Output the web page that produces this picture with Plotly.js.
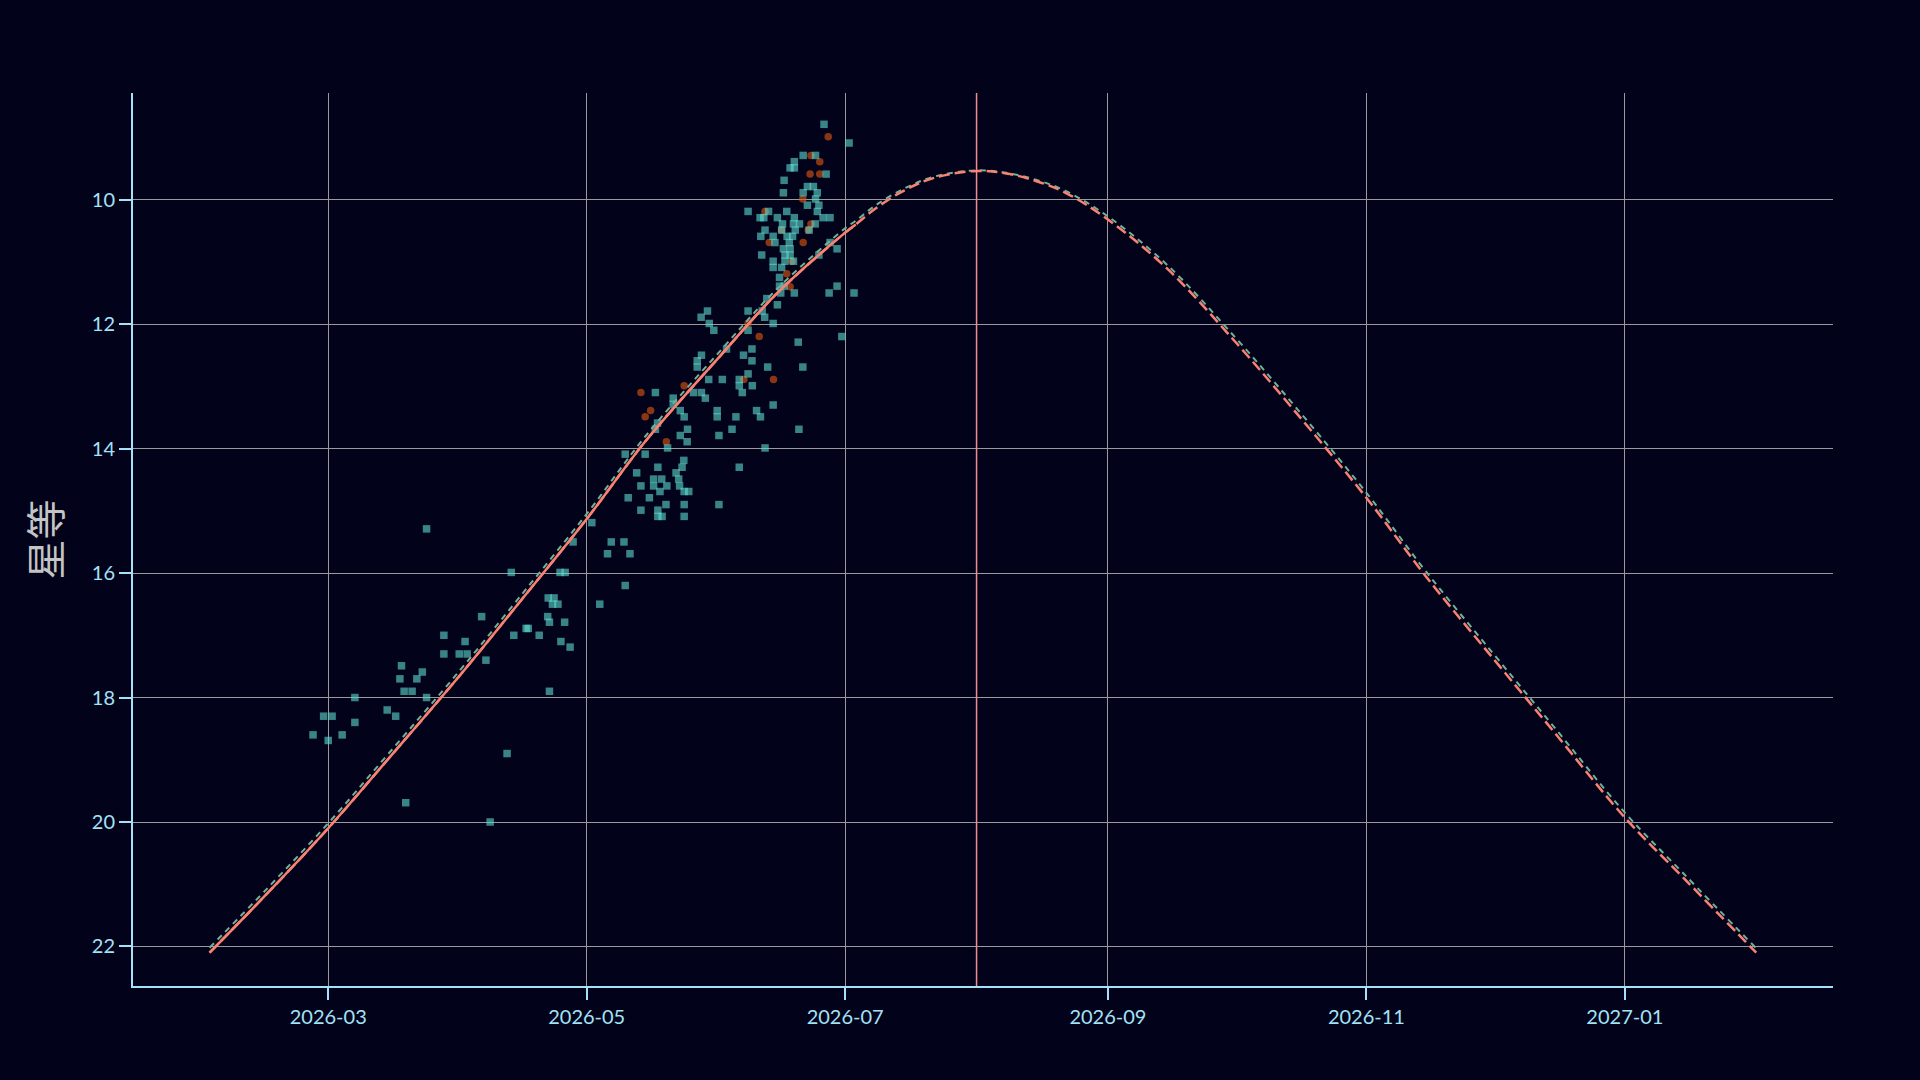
<!DOCTYPE html>
<html>
<head>
<meta charset="utf-8">
<script src="https://cdn.plot.ly/plotly-3.0.1.min.js"></script>
<style>
  html, body { margin: 0; padding: 0; background: #02021a; }
  #mag-graph { width: 1920px; height: 1080px; }
</style>
</head>
<body>
<div id="mag-graph"></div>
<script>
/* -------------------------------------------------------*/
/* Comet magnitude: observations + predicted light curves */
/* ------------------------------------------------------*/
const magGraph = document.getElementById('mag-graph');

// Observations (teal squares)
const obsDates = [
  // Feb - Apr
  '2026-03-24 05:00', '2026-05-02 05:00', '2026-04-27 19:00', '2026-04-13 05:00', '2026-04-24 17:00',
  '2026-04-25 22:00', '2026-04-21 22:00', '2026-04-23 07:00', '2026-04-22 22:00', '2026-04-24 05:00',
  '2026-04-06 05:00', '2026-04-21 19:00', '2026-04-22 05:00', '2026-04-25 19:00', '2026-04-16 17:00',
  '2026-04-17 05:00', '2026-04-13 19:00', '2026-04-19 19:00', '2026-03-28 07:00', '2026-04-02 07:00',
  '2026-04-24 22:00', '2026-04-27 02:00', '2026-03-28 07:00', '2026-03-31 22:00', '2026-04-02 19:00',
  '2026-04-07 05:00', '2026-03-18 07:00', '2026-03-23 05:00', '2026-03-17 22:00', '2026-03-21 22:00',
  '2026-03-18 22:00', '2026-03-20 19:00', '2026-04-22 05:00', '2026-03-07 07:00', '2026-03-24 05:00',
  '2026-03-14 22:00', '2026-02-27 22:00', '2026-03-01 22:00', '2026-03-16 22:00', '2026-03-07 07:00',
  '2026-02-25 10:00', '2026-03-04 07:00', '2026-03-01 00:00', '2026-04-12 05:00', '2026-03-19 07:00',
  '2026-04-08 05:00',
  // May
  '2026-05-17 05:00', '2026-05-21 10:00', '2026-05-21 10:00', '2026-05-23 02:00', '2026-05-24 00:00',
  '2026-05-17 17:00', '2026-05-17 05:00', '2026-05-24 19:00', '2026-05-23 02:00', '2026-05-24 17:00',
  '2026-05-20 02:00', '2026-05-10 02:00', '2026-05-14 19:00', '2026-05-23 22:00', '2026-05-17 19:00',
  '2026-05-23 12:00', '2026-05-12 19:00', '2026-05-22 02:00', '2026-05-16 19:00', '2026-05-18 17:00',
  '2026-05-22 17:00', '2026-05-13 19:00', '2026-05-16 19:00', '2026-05-19 22:00', '2026-05-22 22:00',
  '2026-05-18 07:00', '2026-05-24 00:00', '2026-05-25 02:00', '2026-05-10 19:00', '2026-05-15 19:00',
  '2026-05-19 17:00', '2026-05-24 00:00', '2026-06-01 05:00', '2026-05-13 19:00', '2026-05-17 19:00',
  '2026-05-17 19:00', '2026-05-18 19:00', '2026-05-24 00:00', '2026-05-06 19:00', '2026-05-09 19:00',
  '2026-05-05 22:00', '2026-05-11 05:00', '2026-05-10 02:00', '2026-05-04 02:00',
  // late May - June
  '2026-05-29 19:00', '2026-06-02 00:00', '2026-06-06 00:00', '2026-06-06 00:00', '2026-06-08 02:00',
  '2026-06-09 02:00', '2026-05-26 05:00', '2026-05-28 02:00', '2026-05-29 00:00', '2026-06-06 17:00',
  '2026-06-14 00:00', '2026-05-31 19:00', '2026-05-31 19:00', '2026-06-05 05:00', '2026-06-10 02:00',
  '2026-06-11 00:00', '2026-06-04 07:00', '2026-06-01 05:00', '2026-06-12 02:00', '2026-06-06 00:00',
  '2026-06-20 02:00',
  '2026-06-15 12:00', '2026-06-16 14:00', '2026-06-19 00:00', '2026-06-27 05:00', '2026-06-29 02:00',
  '2026-07-03 02:00', '2026-06-15 19:00', '2026-06-12 12:00', '2026-06-15 00:00', '2026-05-29 12:00',
  '2026-05-28 00:00', '2026-06-08 02:00', '2026-06-11 10:00', '2026-06-12 00:00', '2026-05-29 22:00',
  '2026-06-08 02:00', '2026-05-31 00:00', '2026-06-14 00:00', '2026-06-30 05:00', '2026-06-19 22:00',
  '2026-06-09 00:00', '2026-06-03 00:00', '2026-05-28 02:00', '2026-06-07 00:00', '2026-06-09 00:00',
  '2026-05-27 02:00', '2026-05-27 02:00', '2026-06-12 17:00', '2026-06-21 00:00',
  // bright end
  '2026-06-26 00:00', '2026-07-01 22:00', '2026-06-21 02:00', '2026-06-24 00:00', '2026-06-19 00:00',
  '2026-06-18 00:00', '2026-06-19 00:00', '2026-06-26 12:00', '2026-06-16 14:00', '2026-06-22 02:00',
  '2026-06-23 12:00', '2026-06-16 10:00', '2026-06-21 02:00', '2026-06-24 10:00', '2026-06-24 00:00',
  '2026-06-22 02:00', '2026-06-24 19:00',
  '2026-06-08 02:00', '2026-06-12 22:00', '2026-06-17 05:00', '2026-06-24 10:00', '2026-06-10 22:00',
  '2026-06-11 19:00', '2026-06-15 00:00', '2026-06-19 00:00', '2026-06-25 19:00', '2026-06-27 10:00',
  '2026-06-16 05:00', '2026-06-18 19:00', '2026-06-20 05:00', '2026-06-23 22:00', '2026-06-12 02:00',
  '2026-06-16 00:00', '2026-06-19 05:00', '2026-06-22 12:00', '2026-06-11 02:00', '2026-06-14 00:00',
  '2026-06-17 07:00', '2026-06-18 14:00', '2026-06-14 10:00', '2026-06-17 19:00', '2026-06-27 10:00',
  '2026-06-16 10:00', '2026-06-18 00:00', '2026-06-29 02:00', '2026-06-11 07:00', '2026-06-16 19:00',
  '2026-06-18 00:00', '2026-06-24 19:00', '2026-06-14 00:00', '2026-06-16 19:00', '2026-06-18 19:00',
  '2026-06-14 00:00', '2026-06-16 00:00', '2026-06-15 12:00',
];
const obsMags = [
  15.29, 15.19, 15.5, 15.99, 15.99,
  15.99, 16.4, 16.4, 16.5, 16.5,
  16.7, 16.7, 16.79, 16.79, 16.89,
  16.89, 17.0, 17.0, 17.0, 17.1,
  17.1, 17.19, 17.3, 17.3, 17.3,
  17.4, 17.49, 17.59, 17.7, 17.7,
  17.9, 17.9, 17.9, 18.0, 18.0,
  18.2, 18.3, 18.3, 18.3, 18.4,
  18.6, 18.6, 18.69, 18.9, 19.69,
  20.0,
  13.1, 13.19, 13.29, 13.39, 13.49,
  13.59, 13.69, 13.69, 13.79, 13.89,
  13.99, 14.09, 14.09, 14.19, 14.3,
  14.3, 14.39, 14.39, 14.49, 14.49,
  14.49, 14.6, 14.6, 14.6, 14.6,
  14.69, 14.69, 14.69, 14.79, 14.79,
  14.9, 14.9, 14.9, 14.99, 14.99,
  15.09, 15.09, 15.09, 15.5, 15.5,
  15.69, 15.69, 16.2, 16.5,
  12.89, 12.89, 12.89, 12.99, 12.8,
  12.99, 13.1, 13.1, 13.19, 13.1,
  13.3, 13.39, 13.49, 13.49, 13.39,
  13.49, 13.69, 13.79, 13.99, 14.3,
  13.69,
  11.39, 11.39, 11.5, 11.5, 11.39,
  11.5, 11.5, 11.59, 11.69, 11.79,
  11.89, 11.79, 11.79, 11.89, 11.99,
  12.1, 12.1, 11.99, 12.2, 12.29,
  12.4, 12.4, 12.5, 12.5, 12.59,
  12.59, 12.69, 12.69, 12.69,
  8.79, 9.09, 9.29, 9.29, 9.39,
  9.49, 9.49, 9.59, 9.69, 9.79,
  9.79, 9.89, 9.89, 9.89, 9.99,
  10.09, 10.09,
  10.19, 10.19, 10.19, 10.19, 10.29,
  10.29, 10.29, 10.29, 10.29, 10.29,
  10.39, 10.39, 10.39, 10.39, 10.49,
  10.49, 10.49, 10.49, 10.59, 10.59,
  10.59, 10.59, 10.69, 10.69, 10.69,
  10.79, 10.79, 10.79, 10.89, 10.89,
  10.89, 10.89, 10.99, 10.99, 10.99,
  11.09, 11.09, 11.25,
];

// Second observation set (orange dots)
const altObsDates = [
  '2026-05-13 19:00', '2026-05-16 02:00', '2026-05-14 19:00', '2026-05-24 00:00', '2026-05-19 19:00',
  '2026-06-07 02:00', '2026-06-14 02:00', '2026-06-18 00:00', '2026-06-08 02:00', '2026-06-10 17:00',
  '2026-06-27 00:00', '2026-06-22 22:00', '2026-06-25 00:00', '2026-06-22 17:00', '2026-06-25 00:00',
  '2026-06-21 00:00', '2026-06-12 02:00', '2026-06-22 22:00', '2026-06-22 07:00', '2026-06-16 00:00',
  '2026-06-13 02:00', '2026-06-21 02:00', '2026-06-18 10:00', '2026-06-17 05:00',
];
const altObsMags = [
  13.1, 13.39, 13.49, 12.99, 13.89,
  12.89, 12.89, 11.4, 11.99, 12.2,
  8.99, 9.29, 9.39, 9.59, 9.59,
  9.99, 10.19, 10.39, 10.49, 10.49,
  10.69, 10.69, 10.99, 11.19,
];

// Predicted light curves
const curveDates = [
  '2026-02-01', '2026-02-15', '2026-03-01', '2026-03-15', '2026-04-01', '2026-04-15',
  '2026-05-01', '2026-05-15', '2026-06-01', '2026-06-15', '2026-07-01', '2026-07-03 12:00',
  '2026-07-08', '2026-07-15', '2026-07-22', '2026-08-01', '2026-08-08', '2026-08-15',
  '2026-08-22', '2026-09-01', '2026-09-15', '2026-10-01', '2026-10-15', '2026-11-01',
  '2026-11-15', '2026-12-01', '2026-12-15', '2027-01-01', '2027-01-15', '2027-02-01',
];
const fitMags = [
  22.1, 21.12, 20.1, 19.0, 17.65, 16.48,
  15.13, 13.87, 12.55, 11.5, 10.53, 10.4,
  10.15, 9.85, 9.65, 9.54, 9.58, 9.7,
  9.89, 10.32, 11.11, 12.28, 13.39, 14.79,
  16.05, 17.38, 18.53, 19.93, 20.91, 22.1,
];
const altFitMags = [
  22.02, 21.04, 20.02, 18.92, 17.57, 16.4,
  15.05, 13.79, 12.47, 11.43, 10.46, 10.34,
  10.1, 9.82, 9.63, 9.53, 9.57, 9.68,
  9.86, 10.27, 11.05, 12.21, 13.31, 14.71,
  15.97, 17.3, 18.45, 19.85, 20.84, 22.03,
];
const lastObsDate = '2026-07-03 12:00';
const peakDate = '2026-08-01';

// observed part of the fit is drawn solid over the dashed full curve
const pastDates = [];
const pastMags = [];
for (let i = 0; i < curveDates.length; i++) {
  if (curveDates[i] <= lastObsDate) {
    pastDates.push(curveDates[i]);
    pastMags.push(fitMags[i]);
  }
}

const axisColor = '#a3e2f7';
const gridColor = '#9a9a9a';
const bgColor = '#02021a';

const data = [
  {
    type: 'scatter',
    mode: 'markers',
    x: altObsDates,
    y: altObsMags,
    marker: { symbol: 'circle', size: 7.5, color: '#e65a10', opacity: 0.6 },
    hoverinfo: 'x+y',
  },
  {
    type: 'scatter',
    mode: 'markers',
    x: obsDates,
    y: obsMags,
    marker: { symbol: 'square', size: 7.5, color: '#5fdcd0', opacity: 0.6 },
    hoverinfo: 'x+y',
  },
  {
    type: 'scatter',
    mode: 'lines',
    x: curveDates,
    y: altFitMags,
    line: { color: '#6db39a', width: 2, dash: '6px,5px', shape: 'spline' },
  },
  {
    type: 'scatter',
    mode: 'lines',
    x: curveDates,
    y: fitMags,
    line: { color: '#fa8072', width: 2.5, dash: '11px,5px', shape: 'spline' },
  },
  {
    type: 'scatter',
    mode: 'lines',
    x: pastDates,
    y: pastMags,
    line: { color: '#fa8072', width: 2.5, shape: 'spline' },
  },
];

const layout = {
  width: 1920,
  height: 1080,
  paper_bgcolor: bgColor,
  plot_bgcolor: bgColor,
  showlegend: false,
  margin: { l: 133, r: 87, t: 93, b: 94 },
  font: { family: 'Lato, sans-serif', size: 20, color: axisColor },
  xaxis: {
    type: 'date',
    range: ['2026-01-13 22:20', '2027-02-19 02:40'],
    tick0: '2026-01-01',
    dtick: 'M2',
    tickformat: '%Y-%m',
    showline: true,
    linecolor: axisColor,
    linewidth: 2,
    ticks: 'outside',
    ticklen: 12,
    tickwidth: 2,
    tickcolor: axisColor,
    showgrid: true,
    gridcolor: gridColor,
    gridwidth: 1,
    zeroline: false,
  },
  yaxis: {
    range: [22.635, 8.287],
    tick0: 0,
    dtick: 2,
    showline: true,
    linecolor: axisColor,
    linewidth: 2,
    ticks: 'outside',
    ticklen: 12,
    tickwidth: 2,
    tickcolor: axisColor,
    showgrid: true,
    gridcolor: gridColor,
    gridwidth: 1,
    zeroline: false,
    title: {
      text: '星等',
      standoff: 18,
      font: { family: '"Noto Sans CJK SC", sans-serif', size: 40, color: '#c4c4c4' },
    },
  },
  shapes: [
    {
      // predicted peak
      type: 'line',
      xref: 'x',
      yref: 'paper',
      x0: peakDate,
      x1: peakDate,
      y0: 0,
      y1: 1,
      line: { color: '#f28b8b', width: 1.5 },
    },
  ],
};

const config = { displayModeBar: false, responsive: false };
Plotly.newPlot(magGraph, data, layout, config);
</script>
</body>
</html>
